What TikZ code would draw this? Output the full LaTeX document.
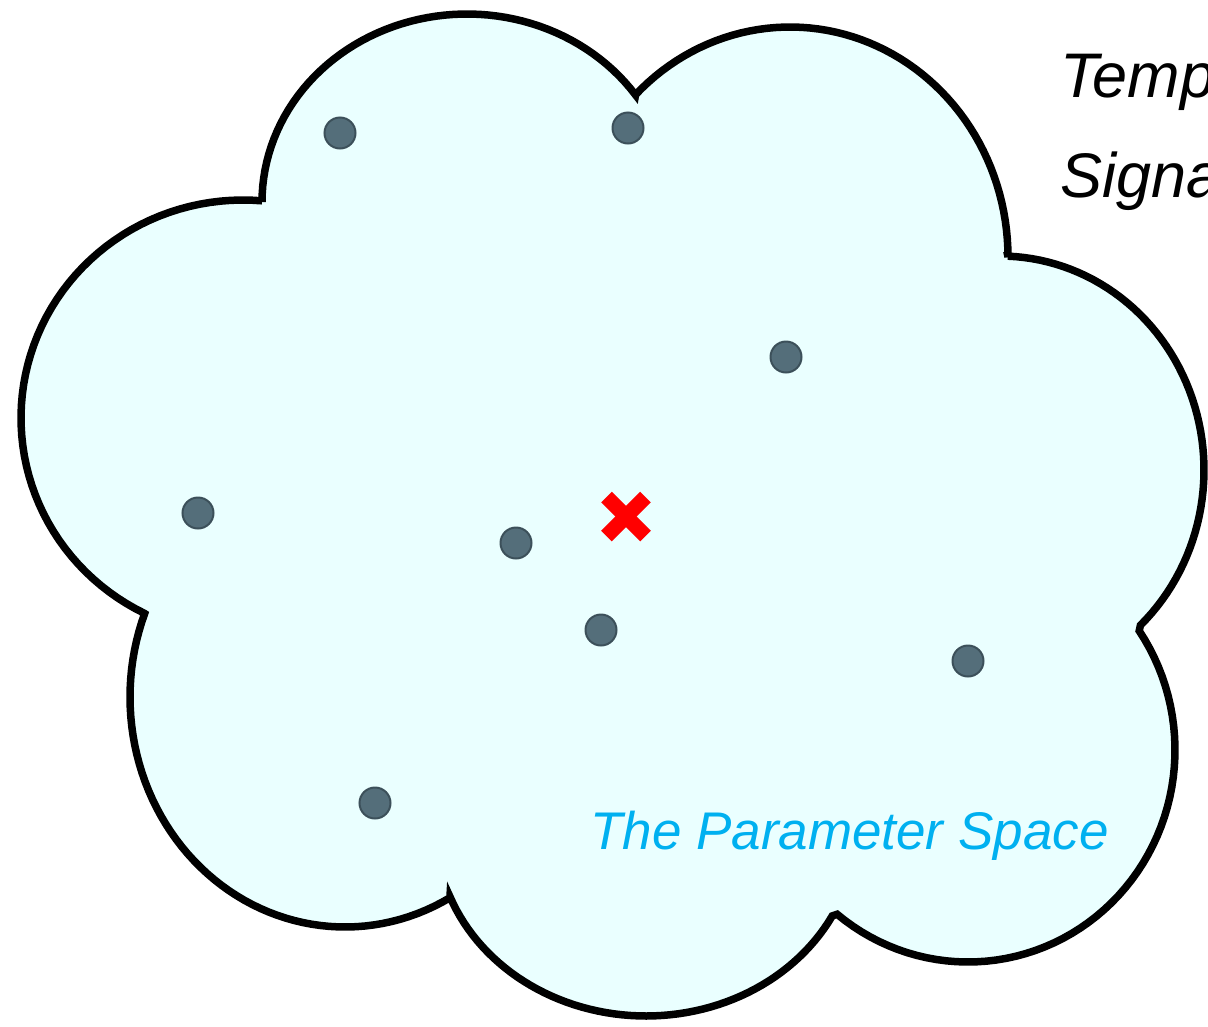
\documentclass[tikz,border=0pt]{standalone}
\usepackage{fontspec}
\setmainfont{Liberation Sans}
\definecolor{cloudfill}{RGB}{234,255,255}
\definecolor{dotfill}{RGB}{84,110,122}
\definecolor{dotline}{RGB}{60,80,90}
\definecolor{labelcyan}{RGB}{0,176,240}
\begin{document}
\begin{tikzpicture}[x=1pt,y=-1pt,
  cloudline/.style={draw=black,line width=7.5pt,fill=cloudfill,line join=miter,miter limit=6},
  dot/.style={circle,minimum size=31pt,inner sep=0pt,fill=dotfill,draw=dotline,line width=2pt},
  redx/.style={draw=red,line width=15pt,line cap=butt},
  bigtext/.style={anchor=base west,inner sep=0pt,font=\fontsize{63}{63}\selectfont\itshape},
  spacetext/.style={anchor=base west,inner sep=0pt,text=labelcyan,font=\fontsize{53}{53}\selectfont\itshape}]
\clip (0,0) rectangle (1208,1026);
\fill[white] (0,0) rectangle (1208,1026);
% cloud outline: seven elliptical bumps
\path[cloudline]
  plot[domain=180:325.3,samples=60,variable=\t] ({467+205*cos(\t)},{202+188*sin(\t)})
  -- plot[domain=224.9:360,samples=60,variable=\t] ({790+218*cos(\t)},{257+230*sin(\t)})
  -- plot[domain=272.2:406.5,samples=60,variable=\t] ({1000+204*cos(\t)},{470+214*sin(\t)})
  -- plot[domain=325.8:489.2,samples=60,variable=\t] ({968+207*cos(\t)},{750+212*sin(\t)})
  -- plot[domain=27.5:159,samples=60,variable=\t] ({646+210*cos(\t)},{830+186*sin(\t)})
  -- plot[domain=60.8:201.3,samples=60,variable=\t] ({345+215*cos(\t)},{697+230*sin(\t)})
  -- plot[domain=116.3:274.9,samples=60,variable=\t] ({243+222*cos(\t)},{418+218*sin(\t)})
  -- cycle;
% sample points
\node[dot] (d1) at (340,133) {};
\node[dot] (d2) at (628,128) {};
\node[dot] (d3) at (786,357) {};
\node[dot] (d4) at (198,513) {};
\node[dot] (d5) at (516,543) {};
\node[dot] (d6) at (601,630) {};
\node[dot] (d7) at (968,661) {};
\node[dot] (d8) at (375,803) {};
% signal marker
\coordinate (sig) at (626,516.5);
\draw[redx] ([shift={(-19.5,-19.5)}]sig) -- ([shift={(19.5,19.5)}]sig);
\draw[redx] ([shift={(19.5,-19.5)}]sig) -- ([shift={(-19.5,19.5)}]sig);
% labels
\node[spacetext] (space) at (590,849) {The Parameter Space};
\node[bigtext] (temp) at (1060,97) {Temp};
\node[bigtext] (signa) at (1060,197) {Signa};
\end{tikzpicture}
\end{document}
